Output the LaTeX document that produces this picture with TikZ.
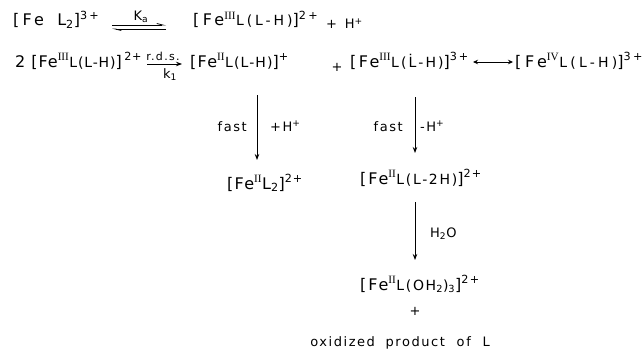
\documentclass[tikz,border=0pt]{standalone}
\usepackage{fontspec}
\setmainfont{DejaVu Sans}[LetterSpace=12]
\newfontfamily\romfont{Liberation Serif}
\usetikzlibrary{arrows.meta}
\newcommand{\ox}[1]{\textsuperscript{\romfont #1}}
\newcommand{\chg}[1]{\textsuperscript{#1}}
\newcommand{\lig}[1]{{\fontsize{14}{14}\selectfont #1}}
\newcommand{\sbs}[1]{\textsubscript{#1}}
\newcommand{\ls}[1]{\addfontfeature{LetterSpace=#1}}
\tikzset{
 sp/.style={inner sep=0pt, anchor=base west, font=\fontsize{16}{18}\selectfont},
 lab/.style={inner sep=0pt, font=\fontsize{13}{15}\selectfont},
 arr/.style={-{Stealth[length=6pt,width=4.5pt]}, line width=0.8pt},
 darr/.style={{Stealth[length=5pt,width=4.5pt]}-{Stealth[length=5pt,width=4.5pt]}, line width=0.8pt},
 harp/.style={-{Straight Barb[left,length=6pt,width=3pt]}, line width=0.8pt},
}
\begin{document}
\begin{tikzpicture}[x=1pt,y=-1pt]
\useasboundingbox (0,0) rectangle (644,353);
% row 1
\node[sp] (a) at (13,26) {\ls{20}[Fe\hspace{5pt} L\sbs{2}]\chg{3+}};
\coordinate (e1) at (112,25); \coordinate (e2) at (166,25);
\coordinate (e3) at (166,29); \coordinate (e4) at (112,29);
\draw[harp] (e1) -- (e2);
\draw[harp] (e3) -- (e4);
\node[lab, anchor=base] (ka) at (141,21) {K\sbs{a}};
\node[sp] (b) at (193,26) {\ls{21}[Fe\ox{III}\lig{L(L-H)}]\chg{2+}};
\node[lab, anchor=base west] (hp) at (326,29) {+\, H\chg{+}};
% row 2
\node[sp] (g) at (15,67) {\ls{6}2 [Fe\ox{III}\lig{L(L-H)}]\,\chg{2+}};
\coordinate (r1) at (147,64); \coordinate (r2) at (182,64);
\draw[arr] (r1) -- (r2);
\node[lab, anchor=base, font=\fontsize{11}{12}\selectfont] (rds) at (163,60) {r.d.s.};
\node[lab, anchor=base] (k1) at (170,78) {k\sbs{1}};
\node[sp] (c) at (190,67) {\ls{8}[Fe\ox{II}\lig{L(L-H)}]\chg{+}};
\node[lab, anchor=base] (pl) at (337,71) {+};
\node[sp] (e) at (350,67) {\ls{15}[Fe\ox{III}\lig{L(\.{L}-H)}]\chg{3+}};
\coordinate (d1) at (473,62); \coordinate (d2) at (513,62);
\draw[darr] (d1) -- (d2);
\node[sp] (f) at (515,67) {\ls{23}[Fe\ox{IV}\lig{L(L-H)}]\chg{3+}};
% column 1
\coordinate (v1a) at (257,95); \coordinate (v1b) at (257,160);
\draw[arr] (v1a) -- (v1b);
\node[lab, anchor=base east] (fast1) at (247,131) {fast};
\node[lab, anchor=base west] (hp1) at (270,131) {+H\chg{+}};
\node[sp] (d) at (227,189) {\ls{8}[Fe\ox{II}L\sbs{2}]\chg{2+}};
% column 2
\coordinate (v2a) at (415,97); \coordinate (v2b) at (415,153);
\draw[arr] (v2a) -- (v2b);
\node[lab, anchor=base east] (fast2) at (403,131) {fast};
\node[lab, anchor=base west] (hm2) at (420,131) {-H\chg{+}};
\node[sp] (h) at (360,184) {[Fe\ox{II}\lig{L(L-2H)}]\chg{2+}};
\coordinate (v3a) at (415,202); \coordinate (v3b) at (415,260);
\draw[arr] (v3a) -- (v3b);
\node[lab, anchor=base west] (w) at (430,237) {H\sbs{2}O};
\node[sp] (i) at (360,290) {[Fe\ox{II}\lig{L(OH\sbs{2})\sbs{3}}]\chg{2+}};
\node[lab] (pl2) at (415,311) {+};
\node[lab, anchor=base] (ox) at (400,346) {oxidized\hspace{5pt} product\hspace{6pt} of\hspace{6pt} L};
\end{tikzpicture}
\end{document}
